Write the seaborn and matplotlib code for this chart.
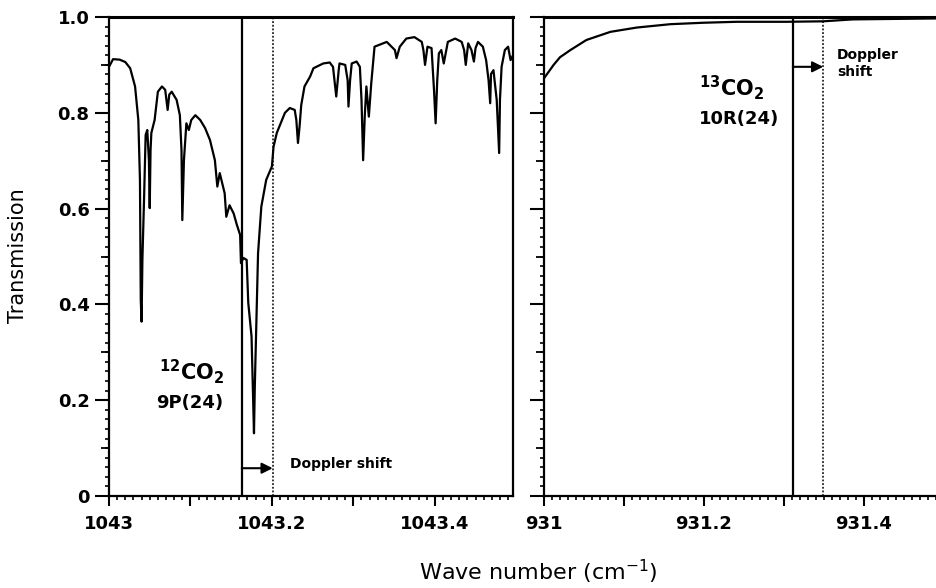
import matplotlib
matplotlib.use("Agg")
import matplotlib.pyplot as plt
from matplotlib.ticker import MultipleLocator, FixedLocator, FuncFormatter, NullFormatter
import numpy as np
import pandas as pd
import seaborn as sns

# 12CO2 9P(24) region: wave number (cm^-1) and transmission
wn_12co2 = [
    1043.000, 1043.005, 1043.013, 1043.020, 1043.026, 1043.032, 1043.036, 1043.038,
    1043.039, 1043.040, 1043.041, 1043.043, 1043.045, 1043.047, 1043.049, 1043.050,
    1043.051, 1043.052, 1043.056, 1043.060, 1043.065, 1043.069, 1043.072, 1043.074,
    1043.077, 1043.083, 1043.087, 1043.089, 1043.090, 1043.092, 1043.095, 1043.098,
    1043.101, 1043.106, 1043.112, 1043.118, 1043.124, 1043.130, 1043.133, 1043.136,
    1043.142, 1043.144, 1043.148, 1043.153, 1043.157, 1043.161, 1043.162, 1043.165,
    1043.169, 1043.171, 1043.175, 1043.177, 1043.178, 1043.179, 1043.181, 1043.183,
    1043.187, 1043.193, 1043.200, 1043.202, 1043.206, 1043.216, 1043.222, 1043.228,
    1043.230, 1043.232, 1043.234, 1043.236, 1043.240, 1043.247, 1043.251, 1043.263,
    1043.271, 1043.275, 1043.279, 1043.282, 1043.283, 1043.290, 1043.293, 1043.294,
    1043.296, 1043.298, 1043.304, 1043.308, 1043.310, 1043.312, 1043.314, 1043.316,
    1043.319, 1043.322, 1043.326, 1043.341, 1043.351, 1043.353, 1043.357, 1043.365,
    1043.375, 1043.384, 1043.386, 1043.388, 1043.391, 1043.396, 1043.399, 1043.401,
    1043.403, 1043.405, 1043.408, 1043.411, 1043.416, 1043.425, 1043.433, 1043.436,
    1043.438, 1043.441, 1043.445, 1043.448, 1043.450, 1043.453, 1043.459, 1043.463,
    1043.466, 1043.468, 1043.469, 1043.472, 1043.474, 1043.476, 1043.479, 1043.480,
    1043.482, 1043.486, 1043.490, 1043.493, 1043.496,
]
tr_12co2 = [
    0.896, 0.912, 0.911, 0.906, 0.893, 0.855, 0.785, 0.660,
    0.409, 0.364, 0.493, 0.618, 0.754, 0.764, 0.701, 0.601,
    0.722, 0.758, 0.785, 0.844, 0.855, 0.848, 0.806, 0.838,
    0.844, 0.827, 0.795, 0.722, 0.576, 0.701, 0.778, 0.764,
    0.785, 0.795, 0.785, 0.768, 0.743, 0.701, 0.646, 0.674,
    0.632, 0.583, 0.607, 0.590, 0.566, 0.545, 0.486, 0.497,
    0.493, 0.403, 0.333, 0.200, 0.131, 0.228, 0.367, 0.507,
    0.604, 0.660, 0.688, 0.729, 0.758, 0.800, 0.810, 0.806,
    0.785, 0.737, 0.772, 0.816, 0.855, 0.876, 0.893, 0.903,
    0.905, 0.896, 0.834, 0.889, 0.903, 0.900, 0.868, 0.813,
    0.868, 0.903, 0.907, 0.896, 0.827, 0.701, 0.793, 0.855,
    0.792, 0.862, 0.938, 0.948, 0.931, 0.914, 0.938, 0.955,
    0.958, 0.948, 0.931, 0.900, 0.938, 0.935, 0.848, 0.778,
    0.868, 0.924, 0.931, 0.903, 0.948, 0.955, 0.948, 0.931,
    0.900, 0.945, 0.931, 0.907, 0.935, 0.948, 0.938, 0.910,
    0.868, 0.820, 0.881, 0.889, 0.858, 0.827, 0.716, 0.827,
    0.896, 0.931, 0.938, 0.910, 0.920,
]

# 13CO2 10R(24) region
wn_13co2 = [931.000, 931.012, 931.020, 931.033, 931.053, 931.083, 931.116,
            931.158, 931.199, 931.241, 931.303, 931.349, 931.386, 931.490, 931.500]
tr_13co2 = [0.872, 0.900, 0.916, 0.931, 0.952, 0.969, 0.978,
            0.985, 0.988, 0.990, 0.990, 0.991, 0.995, 0.997, 0.997]

# Laser line positions and Doppler-shifted positions (cm^-1)
laser_12 = 1043.163
shifted_12 = 1043.201
laser_13 = 931.311
shifted_13 = 931.349

sns.set_style("ticks")
plt.rcParams["font.family"] = ["DejaVu Sans"]
plt.rcParams["text.color"] = "black"
plt.rcParams["axes.labelcolor"] = "black"
plt.rcParams["xtick.color"] = "black"
plt.rcParams["ytick.color"] = "black"
plt.rcParams["xtick.labelcolor"] = "black"
plt.rcParams["ytick.labelcolor"] = "black"
plt.rcParams["mathtext.fontset"] = "custom"
plt.rcParams["mathtext.rm"] = "DejaVu Sans:bold"
plt.rcParams["mathtext.it"] = "DejaVu Sans:bold"
plt.rcParams["mathtext.bf"] = "DejaVu Sans:bold"

W, H = 936, 588
fig = plt.figure(figsize=(W / 100, H / 100), dpi=100)
ax1 = fig.add_axes([109 / W, 92 / H, 404 / W, 479 / H])
ax2 = fig.add_axes([544 / W, 92 / H, 400 / W, 479 / H])

df12 = pd.DataFrame({"wn": wn_12co2, "tr": tr_12co2})
df13 = pd.DataFrame({"wn": wn_13co2, "tr": tr_13co2})
sns.lineplot(data=df12, x="wn", y="tr", ax=ax1, color="black", lw=1.6,
             estimator=None, sort=False)
sns.lineplot(data=df13, x="wn", y="tr", ax=ax2, color="black", lw=1.6,
             estimator=None, sort=False)

ax1.set_xlim(1043.0, 1043.496)
ax2.set_xlim(931.0, 931.5)


def xfmt(v, pos):
    k = int(round(v * 10))
    if k % 2:
        return ""
    return f"{round(v, 1):g}"


def yfmt(v, pos):
    if abs(v) < 1e-9:
        return "0"
    return f"{v:.1f}"


for ax in (ax1, ax2):
    ax.set_ylim(0, 1.0)
    ax.set_xlabel("")
    ax.set_ylabel("")
    ax.xaxis.set_major_locator(MultipleLocator(0.1))
    ax.xaxis.set_minor_locator(MultipleLocator(0.01))
    ax.xaxis.set_major_formatter(FuncFormatter(xfmt))
    ax.yaxis.set_major_locator(FixedLocator([0, 0.2, 0.4, 0.6, 0.8, 1.0]))
    ax.yaxis.set_minor_locator(MultipleLocator(0.02))
    ax.yaxis.set_major_formatter(FuncFormatter(yfmt))
    ax.tick_params(axis="both", which="major", direction="out", width=1.5,
                   color="black", labelcolor="black", labelsize=13, pad=4)
    ax.tick_params(axis="x", which="major", length=7, pad=7)
    ax.tick_params(axis="y", which="major", length=10)
    ax.tick_params(axis="both", which="minor", direction="out", length=3,
                   width=1.2, color="black")
    for lab in ax.get_xticklabels() + ax.get_yticklabels():
        lab.set_fontweight("bold")
    for s in ax.spines.values():
        s.set_linewidth(1.6)
        s.set_color("black")
    ax.spines["top"].set_visible(True)
    ax.spines["right"].set_visible(True)
    # medium ticks at the odd tenths
    sec = ax.secondary_yaxis("left")
    sec.set_yticks([0.1, 0.3, 0.5, 0.7, 0.9])
    sec.yaxis.set_major_formatter(NullFormatter())
    sec.tick_params(direction="out", length=6, width=1.3, color="black")
    sec.spines["left"].set_visible(False)

ax2.tick_params(axis="y", which="both", labelleft=False)
ax2.spines["top"].set_linewidth(2.2)
ax1.spines["top"].set_linewidth(2.2)

# Laser line (solid) and Doppler-shifted line (dotted)
for ax, xl, xs in ((ax1, laser_12, shifted_12), (ax2, laser_13, shifted_13)):
    ax.axvline(xl, color="black", lw=1.6)
    ax.axvline(xs, color="black", lw=1.1, ls=(0, (1.2, 1.2)))

arrow = dict(arrowstyle="-|>", lw=1.5, color="black", shrinkA=0, shrinkB=0,
             mutation_scale=16)
ax1.annotate("", xy=(shifted_12, 0.058), xytext=(laser_12, 0.058), arrowprops=arrow)
ax2.annotate("", xy=(shifted_13, 0.896), xytext=(laser_13, 0.896), arrowprops=arrow)

ax1.text(1043.222, 0.066, "Doppler shift", fontsize=10, fontweight="bold",
         ha="left", va="center", color="black")
ax2.text(931.366, 0.935, "Doppler\nshift", fontsize=10, fontweight="bold",
         ha="left", va="top", linespacing=1.25, color="black")

ax1.text(1043.101, 0.260, r"$^{12}$CO$_2$", fontsize=15, fontweight="bold",
         ha="center", va="center", color="black")
ax1.text(1043.099, 0.194, "9P(24)", fontsize=13, fontweight="bold",
         ha="center", va="center", color="black")
ax2.text(931.235, 0.852, r"$^{13}$CO$_2$", fontsize=15, fontweight="bold",
         ha="center", va="center", color="black")
ax2.text(931.244, 0.787, "10R(24)", fontsize=13, fontweight="bold",
         ha="center", va="center", color="black")

fig.text(18 / W, 1 - 256 / H, "Transmission", rotation=90, fontsize=15,
         ha="center", va="center", color="black")
fig.text(538 / W, 1 - 572 / H, r"Wave number (cm$^{\mathregular{-1}}$)", fontsize=16,
         ha="center", va="center", color="black")

fig.savefig("out.png", dpi=100)
